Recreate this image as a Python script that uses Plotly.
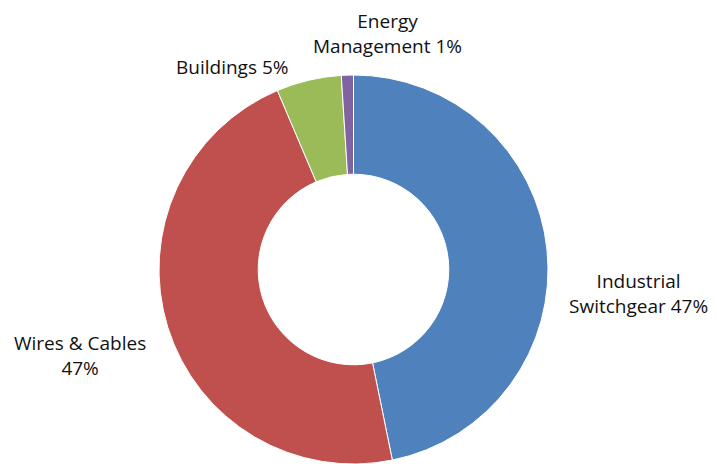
import plotly.graph_objects as go

# Revenue share by business segment
segments = ["Industrial Switchgear", "Wires & Cables", "Buildings", "Energy Management"]
shares = [46.8, 46.8, 5.4, 1.0]
colors = ["#4F81BD", "#C0504D", "#9BBB59", "#8064A2"]

# label text lines (before the percentage) and label anchor points in pixels
label_lines = [["Industrial", "Switchgear"], ["Wires & Cables", ""], ["Buildings"], ["Energy", "Management"]]
label_pos = [(638, 293), (80, 355), (232, 67), (387, 34)]

W, H = 717, 464
TOP = 75
total = sum(shares)

fig = go.Figure(go.Pie(
    labels=segments,
    values=shares,
    hole=0.49,
    sort=False,
    direction="clockwise",
    rotation=0,
    marker=dict(colors=colors, line=dict(color="white", width=1)),
    textinfo="none",
    hoverinfo="label+percent",
    domain=dict(x=[(353.5 - 200) / W, (353.5 + 200) / W], y=[0, 1]),
))

for name_lines, v, (px, py) in zip(label_lines, shares, label_pos):
    pct = f"{round(v / total * 100)}%"
    if len(name_lines) == 2 and name_lines[1] == "":
        text = f"{name_lines[0]}<br>{pct}"
    elif len(name_lines) == 2:
        text = f"{name_lines[0]}<br>{name_lines[1]} {pct}"
    else:
        text = f"{name_lines[0]} {pct}"
    fig.add_annotation(
        x=px / W, y=(H - py) / (H - TOP), xref="paper", yref="paper",
        text=text, showarrow=False, align="center",
        xanchor="center", yanchor="middle",
        font=dict(family="Open Sans", size=19, color="#111111"),
    )

fig.update_layout(
    width=W, height=H,
    margin=dict(l=0, r=0, t=TOP, b=0),
    paper_bgcolor="white",
    plot_bgcolor="white",
    showlegend=False,
)

fig.write_html("out.html")
